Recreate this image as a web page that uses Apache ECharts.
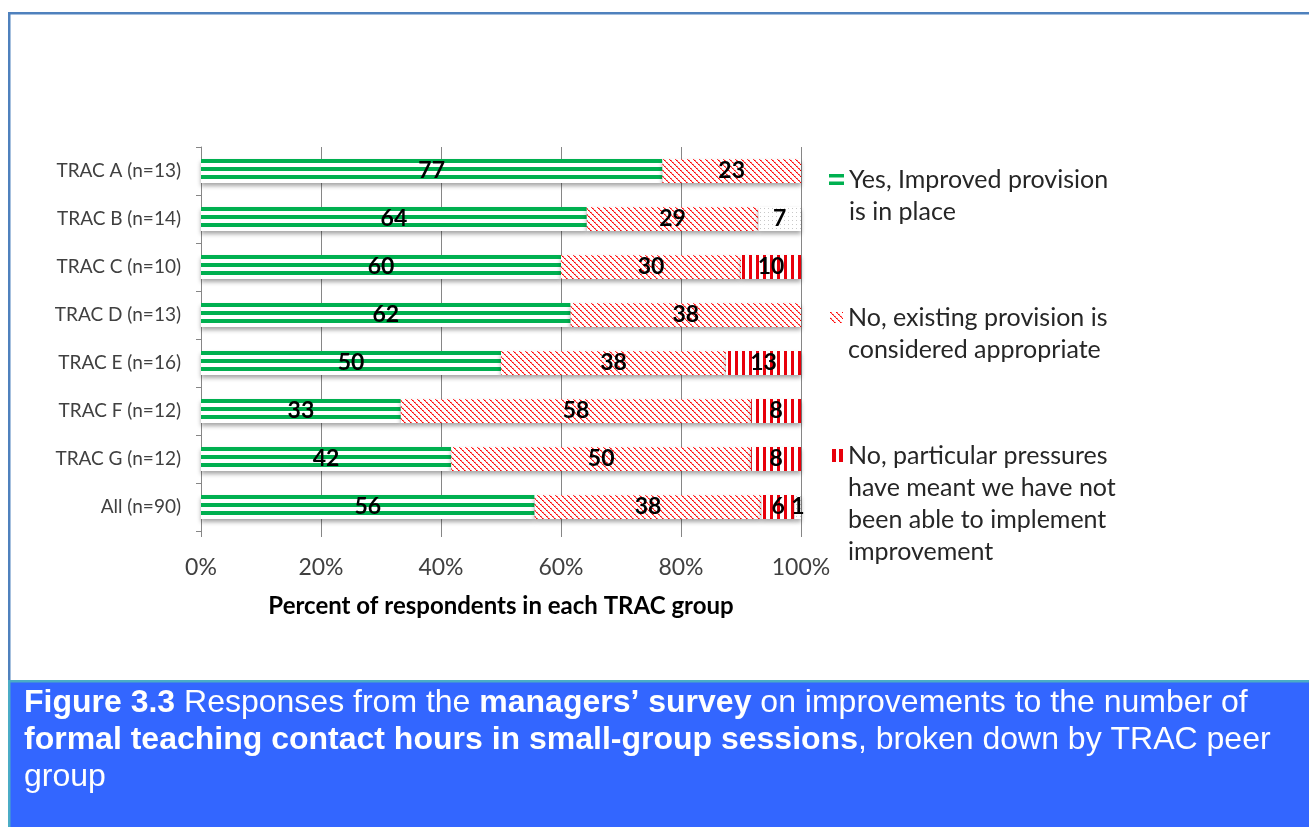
<!DOCTYPE html>
<html>
<head>
<meta charset="utf-8">
<title>Figure 3.3</title>
<script src="https://cdn.jsdelivr.net/npm/echarts@6/dist/echarts.min.js"></script>
<style>
  html, body { margin: 0; padding: 0; background: #fff; }
  #chart { width: 1309px; height: 827px; }
</style>
</head>
<body>
<div id="chart"></div>
<script>
// TRAC peer groups, top to bottom
const groups = ['TRAC A (n=13)', 'TRAC B (n=14)', 'TRAC C (n=10)', 'TRAC D (n=13)',
  'TRAC E (n=16)', 'TRAC F (n=12)', 'TRAC G (n=12)', 'All (n=90)'];

// percent of respondents in each group (labels show rounded values)
const yesImproved   = [76.9, 64.3, 60.0, 61.6, 50.0, 33.3, 41.7, 55.6];
const noAppropriate = [23.1, 28.6, 30.0, 38.4, 37.5, 58.4, 50.0, 37.8];
const noPressures   = [0, 0, 10.0, 0, 12.5, 8.3, 8.3, 5.6];
const noAnswer      = [0, 7.1, 0, 0, 0, 0, 0, 1.0];

const xTicks = [0, 20, 40, 60, 80, 100];

const seriesNames = [
  'Yes, Improved provision is in place',
  'No, existing provision is considered appropriate',
  'No, particular pressures have meant we have not been able to implement improvement',
  'No answer'
];
// legend text, wrapped as in the original
const legendLines = [
  ['Yes, Improved provision', 'is in place'],
  ['No, existing provision is', 'considered appropriate'],
  ['No, particular pressures', 'have meant we have not', 'been able to implement', 'improvement']
];

// fill patterns
function makeCanvas(w, h, draw) {
  const c = document.createElement('canvas');
  c.width = w; c.height = h;
  const ctx = c.getContext('2d');
  ctx.fillStyle = '#fff';
  ctx.fillRect(0, 0, w, h);
  draw(ctx);
  return c;
}
// horizontal green stripes
const greenStripes = makeCanvas(8, 8, ctx => {
  ctx.fillStyle = '#00b050';
  ctx.fillRect(0, 0, 8, 3);
  ctx.fillRect(0, 7, 8, 1);
});
// red dotted diagonal hatch
const redHatch = makeCanvas(6, 6, ctx => {
  for (let k = 0; k < 6; k++) {
    ctx.fillStyle = k % 2 ? '#ff4040' : '#ff0000';
    ctx.fillRect(k, k, 1, 1);
    ctx.fillStyle = k % 2 ? '#ffd0d0' : '#ff6060';
    ctx.fillRect((k + 1) % 6, k, 1, 1);
  }
});
// vertical red stripes
const redBars = makeCanvas(7, 4, ctx => {
  ctx.fillStyle = '#e8000b';
  ctx.fillRect(0, 0, 3, 4);
});
// faint dotted white
const greyDots = makeCanvas(4, 4, ctx => {
  ctx.fillStyle = '#c8c8c8';
  ctx.fillRect(0, 0, 1, 1);
});

function pat(canvas) {
  return { image: canvas, repeat: 'repeat' };
}

function barSeries(name, data, fill) {
  return {
    name: name,
    type: 'bar',
    stack: 'total',
    data: data,
    barWidth: '50%',
    silent: true,
    itemStyle: {
      color: fill,
      shadowColor: 'rgba(0,0,0,0.35)',
      shadowBlur: 4,
      shadowOffsetY: 3
    },
    label: {
      show: true,
      position: 'inside',
      color: '#000',
      fontFamily: 'Lato',
      fontWeight: 'bold',
      fontSize: 23,
      formatter: p => (p.value > 0 ? String(Math.round(p.value)) : '')
    },
    emphasis: { disabled: true }
  };
}

//// one legend per entry so the icon sits on the first text line
function legendFor(idx, left, top, icon, w, h, color) {
  const lines = legendLines[idx];
  return {
    data: [{ name: seriesNames[idx], icon: icon, itemStyle: { color: color, shadowBlur: 0 } }],
    left: left,
    top: top,
    orient: 'vertical',
    padding: 0,
    itemWidth: w,
    itemHeight: h,
    selectedMode: false,
    formatter: () => '{t|' + lines.join('\n') + '}',
    textStyle: {
      padding: [32 * (lines.length - 1), 0, 0, 0],
      rich: {
        t: { fontFamily: 'Lato', fontSize: 25, lineHeight: 32, color: '#262626' }
      }
    }
  };
}

const chart = echarts.init(document.getElementById('chart'));
chart.setOption({
  animation: false,
  backgroundColor: '#fff',
  grid: {
    left: 201,
    top: 147,
    width: 600,
    height: 384,
    containLabel: false,
    outerBoundsMode: 'none'
  },
  xAxis: {
    type: 'value',
    min: xTicks[0],
    max: xTicks[xTicks.length - 1],
    interval: xTicks[1] - xTicks[0],
    axisLine: { show: false },
    axisTick: { show: true, length: 6, lineStyle: { color: '#868686' } },
    splitLine: { show: true, lineStyle: { color: '#868686', width: 1 } },
    axisLabel: {
      fontFamily: 'Lato',
      fontSize: 23,
      color: '#404040',
      margin: 25,
      formatter: v => v + '%'
    },
    name: 'Percent of respondents in each TRAC group',
    nameLocation: 'middle',
    nameGap: 63,
    nameTextStyle: { fontFamily: 'Lato', fontWeight: 'bold', fontSize: 24, color: '#000' }
  },
  yAxis: {
    type: 'category',
    data: groups,
    inverse: true,
    axisLine: { show: true, lineStyle: { color: '#868686' } },
    axisTick: { show: true, length: 5, lineStyle: { color: '#868686' } },
    axisLabel: { fontFamily: 'Lato', fontSize: 19, color: '#404040', margin: 20 },
    splitLine: { show: false }
  },
  legend: [
    legendFor(0, 829, 167, 'path://M0,0H15V3.5H0Z M0,7.5H15V11H0Z', 15, 11, '#00b050'),
    legendFor(1, 830, 305, 'rect', 13, 11, pat(redHatch)),
    legendFor(2, 832, 443, 'path://M0,0H4V13H0Z M7,0H11V13H7Z', 11, 13, '#e8000b')
  ],
  series: [
    barSeries(seriesNames[0], yesImproved, pat(greenStripes)),
    barSeries(seriesNames[1], noAppropriate, pat(redHatch)),
    barSeries(seriesNames[2], noPressures, pat(redBars)),
    barSeries(seriesNames[3], noAnswer, pat(greyDots))
  ],
  graphic: [
    // outer frame
    { type: 'rect', silent: true, shape: { x: 8, y: 12, width: 1301, height: 2.5 }, style: { fill: '#4f81bd' } },
    { type: 'rect', silent: true, shape: { x: 8, y: 12, width: 2.5, height: 668 }, style: { fill: '#4f81bd' } },
    // caption box
    { type: 'rect', silent: true, shape: { x: 8, y: 680, width: 1301, height: 147 }, style: { fill: '#3366ff' } },
    { type: 'rect', silent: true, shape: { x: 8, y: 680, width: 1301, height: 2.5 }, style: { fill: '#4bacc6' } },
    { type: 'rect', silent: true, shape: { x: 8, y: 680, width: 2.5, height: 147 }, style: { fill: '#4bacc6' } },
    {
      type: 'text',
      silent: true,
      x: 24,
      y: 685,
      style: {
        text: '{b|Figure 3.3} Responses from the {b|managers\u2019 survey} on improvements to the number of\n' +
          '{b|formal teaching contact hours in small-group sessions}, broken down by TRAC peer\ngroup',
        fill: '#fff',
        fontFamily: 'Liberation Sans',
        fontSize: 32,
        lineHeight: 37,
        rich: {
          b: { fontFamily: 'Liberation Sans', fontWeight: 'bold', fontSize: 32, lineHeight: 37, fill: '#fff' }
        }
      }
    }
  ]
});
</script>
</body>
</html>
